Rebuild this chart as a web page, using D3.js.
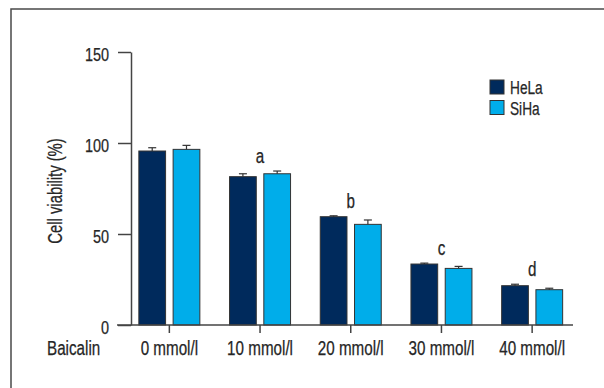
<!DOCTYPE html>
<html>
<head>
<meta charset="utf-8">
<script src="https://cdn.jsdelivr.net/npm/d3@7"></script>
<style>
  body { margin: 0; background: #fff; }
  svg { display: block; }
  text { font-family: "Liberation Sans", Arial, sans-serif; fill: #262626; stroke: #262626; stroke-width: 0.25px; }
</style>
</head>
<body>
<script>
// datos
var categorias = ["0 mmol/l", "10 mmol/l", "20 mmol/l", "30 mmol/l", "40 mmol/l"];
var series = ["HeLa", "SiHa"];
var valoresHeLa = [95.6, 81.5, 59.5, 33.5, 21.6];
var erroresHeLa = [1.8, 1.6, 0.5, 0.5, 0.8];
var valoresSiHa = [96.5, 83.1, 55.3, 31.1, 19.4];
var erroresSiHa = [2.2, 1.5, 2.4, 1.1, 0.8];
var letras = ["", "a", "b", "c", "d"];
var ticksY = [0, 50, 100, 150];
var colores = { HeLa: "#002a5c", SiHa: "#00adea" };

var ancho = 604, alto = 388;
var svg = d3.select("body").append("svg")
            .attr("width", ancho)
            .attr("height", alto);

// marco exterior
svg.append("rect")
   .attr("x", 11).attr("y", 9)
   .attr("width", 620).attr("height", 400)
   .attr("fill", "none")
   .attr("stroke", "#4a4a4a")
   .attr("stroke-width", 1.5);

var x0 = d3.scaleBand().domain(categorias).range([124, 577.5]);
var x1 = d3.scaleBand().domain(series).range([-30.5, 30.5]).paddingInner(0.22);
var y = d3.scaleLinear().domain([0, 150]).range([325, 52]);

// filas: una por barra
var filas = [];
categorias.forEach(function(c, i) {
    filas.push({ cat: c, serie: "HeLa", v: valoresHeLa[i], e: erroresHeLa[i] });
    filas.push({ cat: c, serie: "SiHa", v: valoresSiHa[i], e: erroresSiHa[i] });
});

// barras
svg.selectAll("rect.barra")
   .data(filas)
   .enter().append("rect")
   .attr("class", "barra")
   .attr("x", function(d) { return x0(d.cat) + x0.bandwidth() / 2 + x1(d.serie); })
   .attr("y", function(d) { return y(d.v); })
   .attr("width", x1.bandwidth())
   .attr("height", function(d) { return y(0) - y(d.v); })
   .attr("fill", function(d) { return colores[d.serie]; })
   .attr("stroke", "#333")
   .attr("stroke-width", 1);

// barras de error (solo hacia arriba)
var err = svg.selectAll("g.error")
   .data(filas)
   .enter().append("g")
   .attr("class", "error")
   .attr("transform", function(d) {
       return "translate(" + (x0(d.cat) + x0.bandwidth() / 2 + x1(d.serie) + x1.bandwidth() / 2) + ",0)";
   });
err.append("line")
   .attr("x1", 0).attr("x2", 0)
   .attr("y1", function(d) { return y(d.v); })
   .attr("y2", function(d) { return y(d.v + d.e); })
   .attr("stroke", "#333").attr("stroke-width", 1.2);
err.append("line")
   .attr("x1", -4).attr("x2", 4)
   .attr("y1", function(d) { return y(d.v + d.e); })
   .attr("y2", function(d) { return y(d.v + d.e); })
   .attr("stroke", "#333").attr("stroke-width", 1.2);

// letras de significancia
svg.selectAll("text.letra")
   .data(categorias)
   .enter().append("text")
   .attr("class", "letra")
   .attr("x", function(d) { return x0(d) + x0.bandwidth() / 2; })
   .attr("y", function(d, i) {
       var tope = Math.max(valoresHeLa[i] + erroresHeLa[i], valoresSiHa[i] + erroresSiHa[i]);
       return y(tope) - 8;
   })
   .attr("text-anchor", "middle")
   .attr("font-size", "20px")
   .text(function(d, i) { return letras[i]; });

// eje Y
var ejeY = svg.append("g")
   .attr("transform", "translate(131,0)")
   .call(d3.axisLeft(y).tickValues(ticksY).tickSizeInner(13).tickSizeOuter(0).tickPadding(9));
ejeY.selectAll("path, line").attr("stroke", "#444").attr("stroke-width", 1.5);
ejeY.selectAll("text")
   .attr("font-size", "19px")
   .attr("font-family", null)
   .attr("dy", "0.45em")
   .attr("fill", "#262626");

// eje X
var ejeX = svg.append("g")
   .attr("transform", "translate(0,325)")
   .call(d3.axisBottom(x0).tickSizeInner(8).tickSizeOuter(0));
ejeX.select(".domain").remove();
ejeX.selectAll("line").attr("stroke", "#444").attr("stroke-width", 1.5);
ejeX.selectAll("text")
   .attr("font-size", "20px")
   .attr("font-family", null)
   .attr("y", 29.5)
   .attr("dy", 0)
   .attr("fill", "#262626");
svg.append("line")
   .attr("x1", 117).attr("x2", 573)
   .attr("y1", 325).attr("y2", 325)
   .attr("stroke", "#444").attr("stroke-width", 1.5);

svg.append("text")
   .attr("x", 47).attr("y", 354.5)
   .attr("font-size", "20px")
   .text("Baicalin");

// título del eje Y
svg.append("text")
   .attr("transform", "translate(62,191) rotate(-90)")
   .attr("text-anchor", "middle")
   .attr("font-size", "19.5px")
   .text("Cell viability (%)");

// leyenda
var leyenda = svg.selectAll("g.leyenda")
   .data(series)
   .enter().append("g")
   .attr("class", "leyenda")
   .attr("transform", function(d, i) { return "translate(490," + (80 + i * 20.5) + ")"; });
leyenda.append("rect")
   .attr("width", 14).attr("height", 14)
   .attr("fill", function(d) { return colores[d]; })
   .attr("stroke", "#333").attr("stroke-width", 1);
leyenda.append("text")
   .attr("x", 20).attr("y", 14)
   .attr("font-size", "18px")
   .text(function(d) { return d; });

// comprimir todo el texto para imitar una fuente estrecha
svg.selectAll("text").each(function() {
    var t = d3.select(this);
    if (!t.text()) return;
    var largo = this.getComputedTextLength();
    t.attr("textLength", largo * 0.76).attr("lengthAdjust", "spacingAndGlyphs");
});
</script>
</body>
</html>
